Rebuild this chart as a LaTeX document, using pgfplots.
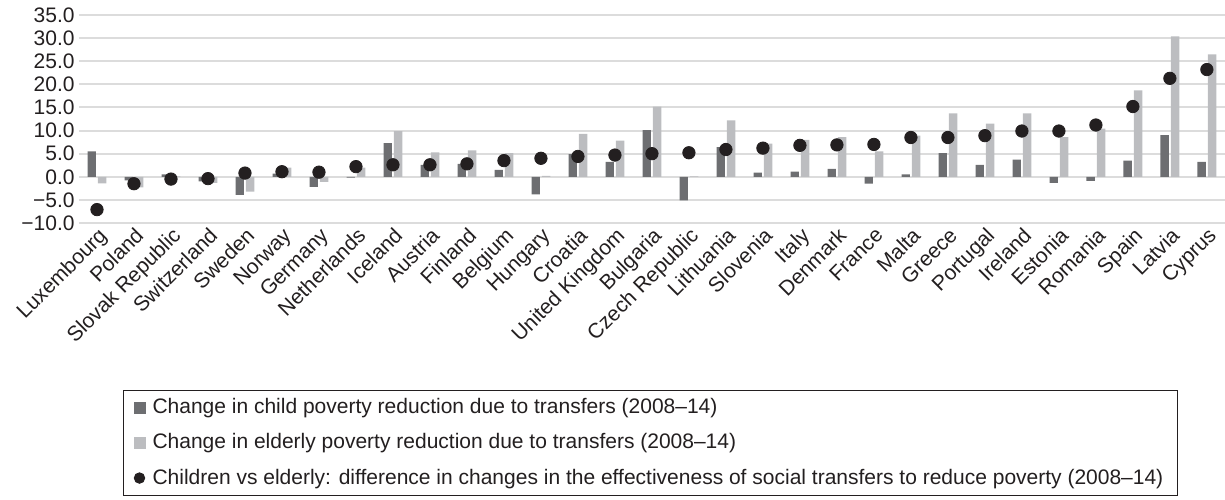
\documentclass[border=0pt]{standalone}
\usepackage{fontspec}
\setmainfont{Liberation Sans}
\usepackage{pgfplots}
\usepackage{pgfplotstable}
\pgfplotsset{compat=1.18}

\definecolor{childbar}{HTML}{6D6E71}
\definecolor{eldbar}{HTML}{BCBDC0}
\definecolor{dotcol}{HTML}{231F20}
\definecolor{gridcol}{HTML}{DCDCDC}

% child / elderly change in poverty reduction, and their difference
\pgfplotstableread{
idx child elderly diff
0  5.5  -1.4 -7.1
1  -0.8 -2.3 -1.5
2  0.5   0.1 -0.5
3  -1.0 -1.3 -0.4
4  -3.9 -3.2  0.8
5  0.7   2.0  1.1
6  -2.2 -1.1  1.0
7  -0.2  2.0  2.2
8  7.3   9.9  2.6
9  2.6   5.3  2.6
10 2.8   5.7  2.8
11 1.5   5.1  3.5
12 -3.8  0.2  4.0
13 4.9   9.3  4.4
14 3.2   7.8  4.7
15 10.1 15.2  5.0
16 -5.1  0.1  5.2
17 6.4  12.2  5.9
18 0.9   7.2  6.2
19 1.1   8.0  6.8
20 1.7   8.6  6.9
21 -1.5  5.5  7.0
22 0.5   8.9  8.5
23 5.1  13.7  8.5
24 2.6  11.5  8.9
25 3.7  13.7  9.9
26 -1.3  8.6  9.9
27 -0.9 10.4 11.2
28 3.5  18.7 15.2
29 9.0  30.4 21.3
30 3.2  26.5 23.2
}\data

\begin{document}
\begin{tikzpicture}
\begin{axis}[
    scale only axis,
    width=573pt, height=104pt,
    xmin=-0.486, xmax=30.49,
    ymin=-10, ymax=35,
    axis line style={draw=none},
    major tick length=0pt,
    ymajorgrids,
    grid style={gridcol, line width=1pt},
    ytick={-10,-5,0,5,10,15,20,25,30,35},
    yticklabels={−10.0,−5.0,0.0,5.0,10.0,15.0,20.0,25.0,30.0,35.0},
    yticklabel style={font=\fontsize{10.5}{12}\selectfont, color=dotcol, inner xsep=2pt},
    xtick={0,...,30},
    xticklabels={Luxembourg,Poland,Slovak Republic,Switzerland,Sweden,Norway,Germany,Netherlands,Iceland,Austria,Finland,Belgium,Hungary,Croatia,United Kingdom,Bulgaria,Czech Republic,Lithuania,Slovenia,Italy,Denmark,France,Malta,Greece,Portugal,Ireland,Estonia,Romania,Spain,Latvia,Cyprus},
    xticklabel style={rotate=45, anchor=north east, inner sep=1pt, font=\fontsize{10.5}{12}\selectfont, color=dotcol},
    legend cell align=left,
    legend style={at={(0,0)}, anchor=north west, xshift=22pt, yshift=-83.5pt,
        draw=dotcol, line width=0.5pt, inner xsep=5pt, inner ysep=2pt,
        row sep=4.5pt, column sep=1.5pt, font=\fontsize{10.5}{12}\selectfont, text=dotcol},
]
\coordinate (sw) at (rel axis cs:0,0);
\addplot[ybar, bar width=4.2pt, bar shift=-2.6pt, fill=childbar, draw=none,
    legend image code/.code={\fill[childbar] (0pt,-3pt) rectangle (6pt,3pt);}]
    table[x=idx, y=child] {\data};
\addlegendentry{Change in child poverty reduction due to transfers (2008–14)}
\addplot[ybar, bar width=4.2pt, bar shift=2.6pt, fill=eldbar, draw=none,
    legend image code/.code={\fill[eldbar] (0pt,-3pt) rectangle (6pt,3pt);}]
    table[x=idx, y=elderly] {\data};
\addlegendentry{Change in elderly poverty reduction due to transfers (2008–14)}
\addplot[only marks, mark=*, mark size=3.1pt, dotcol,
    legend image code/.code={\fill[dotcol] (3pt,0pt) circle (2.6pt);}]
    table[x=idx, y=diff] {\data};
\addlegendentry{Children vs elderly: difference in changes in the effectiveness of social transfers to reduce poverty (2008–14)}
\end{axis}
\pgfresetboundingbox
\path (sw) ++(-39.5pt,-138pt) rectangle ++(612.5pt,249.5pt);
\end{tikzpicture}
\end{document}
